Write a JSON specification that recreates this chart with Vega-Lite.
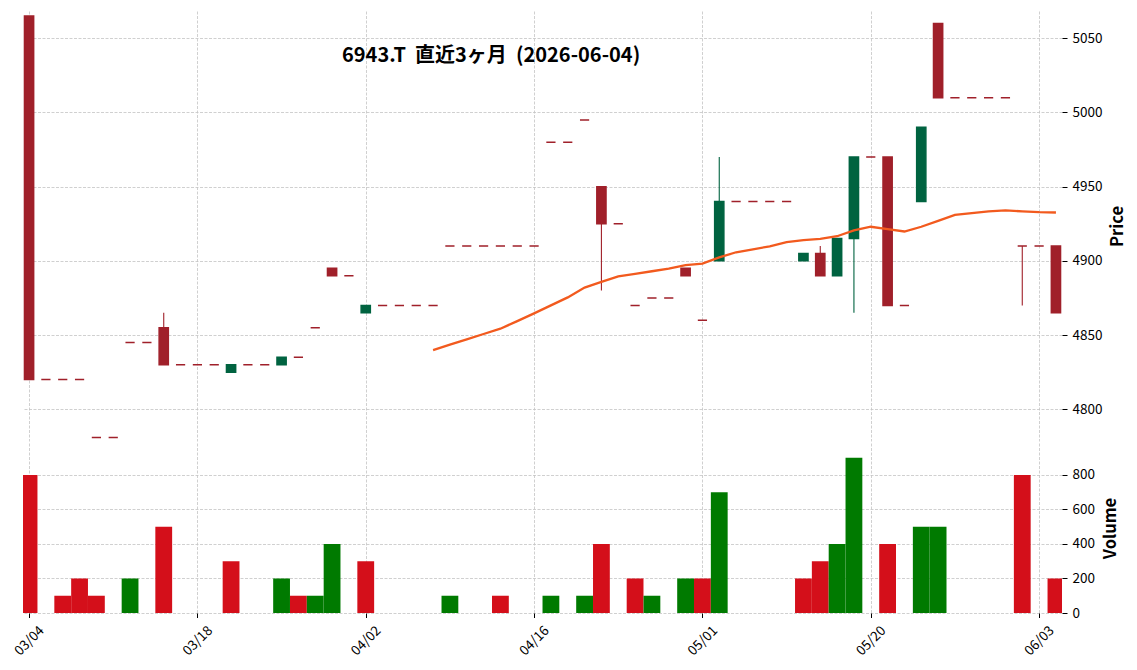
{
  "$schema": "https://vega.github.io/schema/vega-lite/v6.json",
  "background": "white",
  "padding": {"left": 11, "top": 11, "right": 5, "bottom": 5},
  "title": {"text": "6943.T \u00a0直近3ヶ月 \u00a0(2026-06-04)", "anchor": "start", "frame": "group", "dx": 319, "dy": 71, "offset": 0, "baseline": "alphabetic", "font": "Noto Sans CJK JP", "fontSize": 20, "fontWeight": "bold", "color": "#000000"},
  "config": {
    "view": {"stroke": null},
    "axis": {"labelFont": "Noto Sans CJK JP", "titleFont": "Noto Sans CJK JP", "labelFontSize": 13.5, "labelColor": "#000000", "tickColor": "#000000", "tickSize": 5, "tickWidth": 1, "domain": false, "gridColor": "#c4c4c4", "gridDash": [3, 1.5], "gridWidth": 0.8, "titleFontSize": 16.5, "titleFontWeight": "bold", "titleColor": "#000000"}
  },
  "resolve": {"scale": {"color": "independent", "stroke": "independent"}},
  "data": {"values": [
    {"i": 0, "date": "03/04", "o": 5065, "h": 5065, "l": 4820, "c": 4820, "v": 800, "dir": "down", "vdir": "down"},
    {"i": 1, "date": "03/05", "o": 4820, "h": 4820, "l": 4820, "c": 4820, "v": 0, "dir": "down", "vdir": "down"},
    {"i": 2, "date": "03/06", "o": 4820, "h": 4820, "l": 4820, "c": 4820, "v": 100, "dir": "down", "vdir": "down"},
    {"i": 3, "date": "03/09", "o": 4820, "h": 4820, "l": 4820, "c": 4820, "v": 200, "dir": "down", "vdir": "down"},
    {"i": 4, "date": "03/10", "o": 4781, "h": 4781, "l": 4781, "c": 4781, "v": 100, "dir": "down", "vdir": "down"},
    {"i": 5, "date": "03/11", "o": 4781, "h": 4781, "l": 4781, "c": 4781, "v": 0, "dir": "down", "vdir": "down"},
    {"i": 6, "date": "03/12", "o": 4845, "h": 4845, "l": 4845, "c": 4845, "v": 200, "dir": "down", "vdir": "up"},
    {"i": 7, "date": "03/13", "o": 4845, "h": 4845, "l": 4845, "c": 4845, "v": 0, "dir": "down", "vdir": "down"},
    {"i": 8, "date": "03/16", "o": 4855, "h": 4865, "l": 4830, "c": 4830, "v": 500, "dir": "down", "vdir": "down"},
    {"i": 9, "date": "03/17", "o": 4830, "h": 4830, "l": 4830, "c": 4830, "v": 0, "dir": "down", "vdir": "down"},
    {"i": 10, "date": "03/18", "o": 4830, "h": 4830, "l": 4830, "c": 4830, "v": 0, "dir": "down", "vdir": "down"},
    {"i": 11, "date": "03/19", "o": 4830, "h": 4830, "l": 4830, "c": 4830, "v": 0, "dir": "down", "vdir": "down"},
    {"i": 12, "date": "03/23", "o": 4825, "h": 4830, "l": 4825, "c": 4830, "v": 300, "dir": "up", "vdir": "down"},
    {"i": 13, "date": "03/24", "o": 4830, "h": 4830, "l": 4830, "c": 4830, "v": 0, "dir": "down", "vdir": "down"},
    {"i": 14, "date": "03/25", "o": 4830, "h": 4830, "l": 4830, "c": 4830, "v": 0, "dir": "down", "vdir": "down"},
    {"i": 15, "date": "03/26", "o": 4830, "h": 4835, "l": 4830, "c": 4835, "v": 200, "dir": "up", "vdir": "up"},
    {"i": 16, "date": "03/27", "o": 4835, "h": 4835, "l": 4835, "c": 4835, "v": 100, "dir": "down", "vdir": "down"},
    {"i": 17, "date": "03/30", "o": 4855, "h": 4855, "l": 4855, "c": 4855, "v": 100, "dir": "down", "vdir": "up"},
    {"i": 18, "date": "03/31", "o": 4895, "h": 4895, "l": 4890, "c": 4890, "v": 400, "dir": "down", "vdir": "up"},
    {"i": 19, "date": "04/01", "o": 4890, "h": 4890, "l": 4890, "c": 4890, "v": 0, "dir": "down", "vdir": "down"},
    {"i": 20, "date": "04/02", "o": 4865, "h": 4870, "l": 4865, "c": 4870, "v": 300, "dir": "up", "vdir": "down"},
    {"i": 21, "date": "04/03", "o": 4870, "h": 4870, "l": 4870, "c": 4870, "v": 0, "dir": "down", "vdir": "down"},
    {"i": 22, "date": "04/06", "o": 4870, "h": 4870, "l": 4870, "c": 4870, "v": 0, "dir": "down", "vdir": "down"},
    {"i": 23, "date": "04/07", "o": 4870, "h": 4870, "l": 4870, "c": 4870, "v": 0, "dir": "down", "vdir": "down"},
    {"i": 24, "date": "04/08", "o": 4870, "h": 4870, "l": 4870, "c": 4870, "v": 0, "dir": "down", "vdir": "down", "ma": 4839.9},
    {"i": 25, "date": "04/09", "o": 4910, "h": 4910, "l": 4910, "c": 4910, "v": 100, "dir": "down", "vdir": "up", "ma": 4843.5},
    {"i": 26, "date": "04/10", "o": 4910, "h": 4910, "l": 4910, "c": 4910, "v": 0, "dir": "down", "vdir": "down", "ma": 4847.1},
    {"i": 27, "date": "04/13", "o": 4910, "h": 4910, "l": 4910, "c": 4910, "v": 0, "dir": "down", "vdir": "down", "ma": 4850.7},
    {"i": 28, "date": "04/14", "o": 4910, "h": 4910, "l": 4910, "c": 4910, "v": 100, "dir": "down", "vdir": "down", "ma": 4854.3},
    {"i": 29, "date": "04/15", "o": 4910, "h": 4910, "l": 4910, "c": 4910, "v": 0, "dir": "down", "vdir": "down", "ma": 4859.4},
    {"i": 30, "date": "04/16", "o": 4910, "h": 4910, "l": 4910, "c": 4910, "v": 0, "dir": "down", "vdir": "down", "ma": 4864.6},
    {"i": 31, "date": "04/17", "o": 4980, "h": 4980, "l": 4980, "c": 4980, "v": 100, "dir": "down", "vdir": "up", "ma": 4870.0},
    {"i": 32, "date": "04/20", "o": 4980, "h": 4980, "l": 4980, "c": 4980, "v": 0, "dir": "down", "vdir": "down", "ma": 4875.4},
    {"i": 33, "date": "04/21", "o": 4995, "h": 4995, "l": 4995, "c": 4995, "v": 100, "dir": "down", "vdir": "up", "ma": 4882.0},
    {"i": 34, "date": "04/22", "o": 4950, "h": 4950, "l": 4880, "c": 4925, "v": 400, "dir": "down", "vdir": "down", "ma": 4885.8},
    {"i": 35, "date": "04/23", "o": 4925, "h": 4925, "l": 4925, "c": 4925, "v": 0, "dir": "down", "vdir": "down", "ma": 4889.6},
    {"i": 36, "date": "04/24", "o": 4870, "h": 4870, "l": 4870, "c": 4870, "v": 200, "dir": "down", "vdir": "down", "ma": 4891.2},
    {"i": 37, "date": "04/27", "o": 4875, "h": 4875, "l": 4875, "c": 4875, "v": 100, "dir": "down", "vdir": "up", "ma": 4893.0},
    {"i": 38, "date": "04/28", "o": 4875, "h": 4875, "l": 4875, "c": 4875, "v": 0, "dir": "down", "vdir": "down", "ma": 4894.8},
    {"i": 39, "date": "04/30", "o": 4895, "h": 4895, "l": 4890, "c": 4890, "v": 200, "dir": "down", "vdir": "up", "ma": 4897.2},
    {"i": 40, "date": "05/01", "o": 4860, "h": 4860, "l": 4860, "c": 4860, "v": 200, "dir": "down", "vdir": "down", "ma": 4898.2},
    {"i": 41, "date": "05/07", "o": 4900, "h": 4970, "l": 4900, "c": 4940, "v": 700, "dir": "up", "vdir": "up", "ma": 4902.4},
    {"i": 42, "date": "05/08", "o": 4940, "h": 4940, "l": 4940, "c": 4940, "v": 0, "dir": "down", "vdir": "down", "ma": 4905.8},
    {"i": 43, "date": "05/11", "o": 4940, "h": 4940, "l": 4940, "c": 4940, "v": 0, "dir": "down", "vdir": "down", "ma": 4907.8},
    {"i": 44, "date": "05/12", "o": 4940, "h": 4940, "l": 4940, "c": 4940, "v": 0, "dir": "down", "vdir": "down", "ma": 4909.8},
    {"i": 45, "date": "05/13", "o": 4940, "h": 4940, "l": 4940, "c": 4940, "v": 0, "dir": "down", "vdir": "down", "ma": 4912.6},
    {"i": 46, "date": "05/14", "o": 4900, "h": 4905, "l": 4900, "c": 4905, "v": 200, "dir": "up", "vdir": "down", "ma": 4914.0},
    {"i": 47, "date": "05/15", "o": 4905, "h": 4910, "l": 4890, "c": 4890, "v": 300, "dir": "down", "vdir": "down", "ma": 4914.8},
    {"i": 48, "date": "05/18", "o": 4890, "h": 4915, "l": 4890, "c": 4915, "v": 400, "dir": "up", "vdir": "up", "ma": 4916.6},
    {"i": 49, "date": "05/19", "o": 4915, "h": 4970, "l": 4865, "c": 4970, "v": 900, "dir": "up", "vdir": "up", "ma": 4920.6},
    {"i": 50, "date": "05/20", "o": 4970, "h": 4970, "l": 4970, "c": 4970, "v": 0, "dir": "down", "vdir": "down", "ma": 4923.0},
    {"i": 51, "date": "05/21", "o": 4970, "h": 4970, "l": 4870, "c": 4870, "v": 400, "dir": "down", "vdir": "down", "ma": 4921.4},
    {"i": 52, "date": "05/22", "o": 4870, "h": 4870, "l": 4870, "c": 4870, "v": 0, "dir": "down", "vdir": "down", "ma": 4919.8},
    {"i": 53, "date": "05/25", "o": 4940, "h": 4990, "l": 4940, "c": 4990, "v": 500, "dir": "up", "vdir": "up", "ma": 4923.0},
    {"i": 54, "date": "05/26", "o": 5060, "h": 5060, "l": 5010, "c": 5010, "v": 500, "dir": "down", "vdir": "up", "ma": 4927.0},
    {"i": 55, "date": "05/27", "o": 5010, "h": 5010, "l": 5010, "c": 5010, "v": 0, "dir": "down", "vdir": "down", "ma": 4931.0},
    {"i": 56, "date": "05/28", "o": 5010, "h": 5010, "l": 5010, "c": 5010, "v": 0, "dir": "down", "vdir": "down", "ma": 4932.2},
    {"i": 57, "date": "05/29", "o": 5010, "h": 5010, "l": 5010, "c": 5010, "v": 0, "dir": "down", "vdir": "down", "ma": 4933.4},
    {"i": 58, "date": "06/01", "o": 5010, "h": 5010, "l": 5010, "c": 5010, "v": 0, "dir": "down", "vdir": "down", "ma": 4934.0},
    {"i": 59, "date": "06/02", "o": 4910, "h": 4910, "l": 4870, "c": 4910, "v": 800, "dir": "down", "vdir": "down", "ma": 4933.4},
    {"i": 60, "date": "06/03", "o": 4910, "h": 4910, "l": 4910, "c": 4910, "v": 0, "dir": "down", "vdir": "down", "ma": 4932.8},
    {"i": 61, "date": "06/04", "o": 4910, "h": 4910, "l": 4865, "c": 4865, "v": 200, "dir": "down", "vdir": "down", "ma": 4932.6}
  ]},
  "spacing": 2,
  "vconcat": [
    {
      "width": 1039,
      "height": 430,
      "encoding": {
        "x": {"field": "i", "type": "quantitative", "scale": {"domain": [-0.36, 61.36], "nice": false, "zero": false, "padding": 0}, "axis": {"values": [0, 10, 20, 30, 40, 50, 60], "labels": false, "ticks": false, "title": null, "grid": true}}
      },
      "layer": [
        {
          "mark": {"type": "rule", "strokeWidth": 1.1, "clip": true},
          "encoding": {
            "y": {"field": "l", "type": "quantitative", "scale": {"domain": [4778.6, 5068.4], "nice": false, "zero": false, "padding": 0}, "axis": {"orient": "right", "values": [4800, 4850, 4900, 4950, 5000, 5050], "format": "d", "title": "Price", "titleAngle": 270, "titleBaseline": "top", "titlePadding": 8, "labelPadding": 5, "grid": true}},
            "y2": {"field": "h"},
            "color": {"field": "dir", "type": "nominal", "scale": {"domain": ["up", "down"], "range": ["#006340", "#a0202a"]}, "legend": null}
          }
        },
        {
          "mark": {"type": "bar", "width": 9.2, "strokeWidth": 1.5, "clip": true},
          "encoding": {
            "y": {"field": "o", "type": "quantitative"},
            "y2": {"field": "c"},
            "color": {"field": "dir", "type": "nominal", "scale": {"domain": ["up", "down"], "range": ["#006340", "#a0202a"]}, "legend": null},
            "stroke": {"field": "dir", "type": "nominal", "scale": {"domain": ["up", "down"], "range": ["#006340", "#a0202a"]}, "legend": null}
          }
        },
        {
          "mark": {"type": "line", "color": "#f25a1e", "strokeWidth": 2.3, "clip": true},
          "encoding": {
            "y": {"field": "ma", "type": "quantitative"}
          }
        }
      ]
    },
    {
      "width": 1039,
      "height": 170,
      "mark": {"type": "bar", "width": 16.8, "clip": true},
      "encoding": {
        "x": {"field": "i", "type": "quantitative", "scale": {"domain": [-0.36, 61.36], "nice": false, "zero": false, "padding": 0}, "axis": {"values": [0, 10, 20, 30, 40, 50, 60], "title": null, "grid": true, "tickSize": 4.5, "labelExpr": "['03/04','03/18','04/02','04/16','05/01','05/20','06/03'][datum.value / 10]", "labelAngle": -45, "labelAlign": "center", "labelBaseline": "middle", "labelPadding": 23, "labelFlush": false, "labelOverlap": false}},
        "y": {"field": "v", "type": "quantitative", "scale": {"domain": [0, 985], "nice": false, "padding": 0}, "axis": {"orient": "right", "values": [0, 200, 400, 600, 800], "format": "d", "title": "Volume", "titleAngle": 270, "titleBaseline": "top", "titlePadding": 8, "labelPadding": 5, "grid": true}},
        "color": {"field": "vdir", "type": "nominal", "scale": {"domain": ["up", "down"], "range": ["#007a00", "#d40f1a"]}, "legend": null}
      }
    }
  ]
}
